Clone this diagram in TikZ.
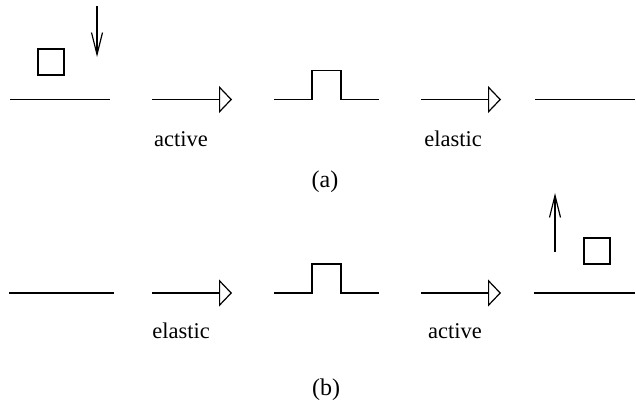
\documentclass[tikz,border=0pt]{standalone}
\usepackage{fontspec}
\setmainfont{Liberation Serif}
\usetikzlibrary{arrows.meta,positioning}

\begin{document}
\begin{tikzpicture}[
    x=1pt, y=-1pt,
    font=\fontsize{22.5}{26}\selectfont,
    wire/.style={line width=1.2pt},
    flow/.style={wire, -{Triangle[open, length=13pt, width=27pt, line width=1.2pt]}},
    move/.style={wire, -{Straight Barb[length=22pt, width=11pt, line width=1.2pt]}},
    block/.style={draw, line width=1.2pt, minimum size=26pt, inner sep=0pt},
    tag/.style={inner sep=0pt, anchor=base},
    caption/.style={tag, font=\fontsize{24}{28}\selectfont}
]
\useasboundingbox (0,0) rectangle (636,409);

% (a) active, then elastic
\coordinate (a0l) at (10,99.5);   \coordinate (a0r) at (110,99.5);
\node[block] (grain a) at (51,62) {};
\coordinate (in top) at (97,6);   \coordinate (in tip) at (97,57);
\coordinate (a1l) at (152,99.5);  \coordinate (a1r) at (232,99.5);
\coordinate (a2l) at (274,99.5);  \coordinate (a2r) at (379,99.5);
\coordinate (a3l) at (421,99.5);  \coordinate (a3r) at (501,99.5);
\coordinate (a4l) at (535,99.5);  \coordinate (a4r) at (635,99.5);
\node[tag] (act a) at (181,146) {active};
\node[tag] (ela a) at (453,146) {elastic};
\node[caption] (cap a) at (325,187) {(a)};

\draw[wire] (a0l) -- (a0r);
\draw[move] (in top) -- (in tip);
\draw[flow] (a1l) -- (a1r);
\draw[wire] (a2l) -- ++(38,0) -- ++(0,-29) -- ++(29,0) -- ++(0,29) -- (a2r);
\draw[flow] (a3l) -- (a3r);
\draw[wire] (a4l) -- (a4r);

% (b) elastic, then active
\coordinate (b0l) at (9,293);     \coordinate (b0r) at (114,293);
\coordinate (b1l) at (152,293);   \coordinate (b1r) at (232,293);
\coordinate (b2l) at (274,293);   \coordinate (b2r) at (379,293);
\coordinate (b3l) at (421,293);   \coordinate (b3r) at (501,293);
\coordinate (b4l) at (534,293);   \coordinate (b4r) at (635,293);
\node[block] (grain b) at (597,251) {};
\coordinate (out foot) at (555,252); \coordinate (out tip) at (555,193);
\node[tag] (ela b) at (181,338) {elastic};
\node[tag] (act b) at (455,338) {active};
\node[caption] (cap b) at (326,395) {(b)};

\draw[wire] (b0l) -- (b0r);
\draw[flow] (b1l) -- (b1r);
\draw[wire] (b2l) -- ++(38,0) -- ++(0,-29) -- ++(29,0) -- ++(0,29) -- (b2r);
\draw[flow] (b3l) -- (b3r);
\draw[wire] (b4l) -- (b4r);
\draw[move] (out foot) -- (out tip);
\end{tikzpicture}
\end{document}
